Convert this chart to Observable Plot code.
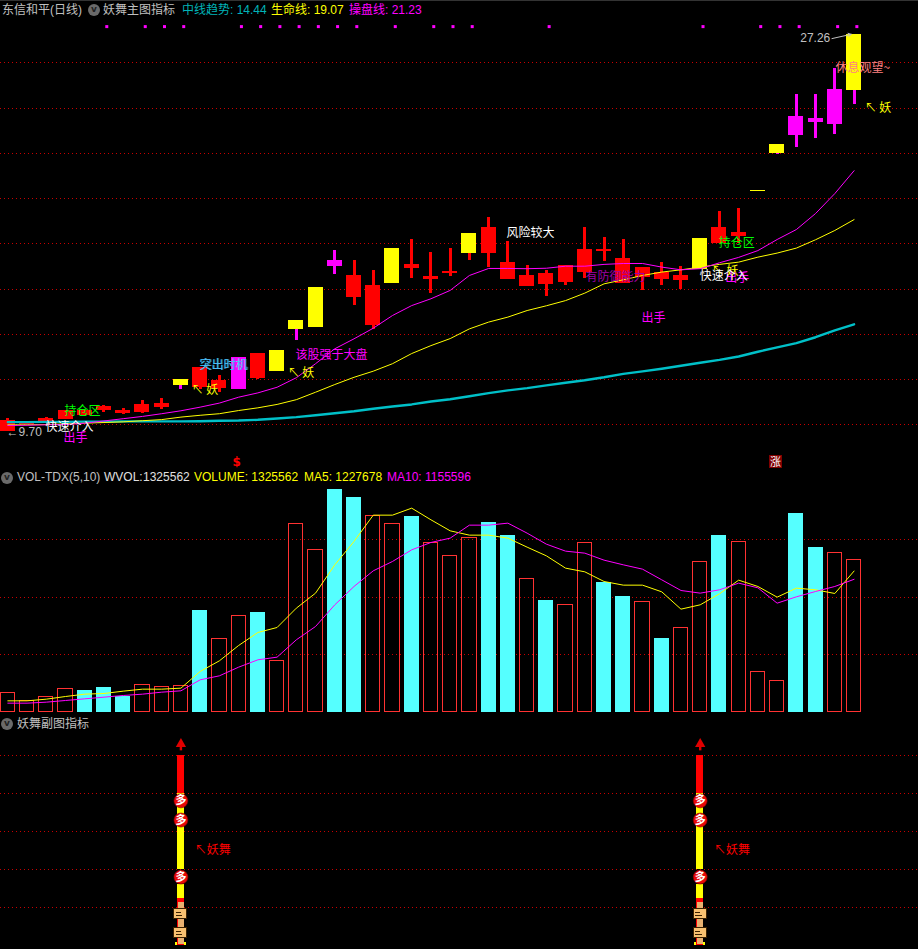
<!DOCTYPE html>
<html><head><meta charset="utf-8">
<script src="https://cdn.jsdelivr.net/npm/d3@7"></script>
<script src="https://cdn.jsdelivr.net/npm/@observablehq/plot@0.6"></script>
<style>
html,body{margin:0;padding:0;background:#000}
#chart{position:relative;width:918px;height:949px;background:#000;overflow:hidden}
#chart svg{display:block;background:#000}
.hd{position:absolute;font:12px/14px "Liberation Sans","Noto Sans CJK SC",sans-serif;white-space:pre}
.ic{position:absolute;width:12px;height:12px;border-radius:50%;background:#6a6a6a;color:#222;font:bold 9px/11px "DejaVu Sans",sans-serif;text-align:center}
</style></head><body>
<div id="chart"></div>
<script>
// --- price panel ---
const candleHigh = [10.29,10.12,10.32,10.63,10.68,10.85,10.72,11.07,11.16,12.00,12.53,12.18,12.97,13.15,13.28,14.61,16.07,17.70,17.26,16.82,17.79,18.19,17.62,17.79,18.46,19.16,18.10,17.04,16.82,17.04,18.72,18.28,18.19,16.95,17.17,17.00,18.23,19.43,19.56,20.37,22.39,24.60,24.60,25.75,27.26];
const bodyTop    = [10.19,10.10,10.26,10.63,10.63,10.81,10.63,10.90,10.94,12.00,12.53,11.96,12.97,13.15,13.28,14.61,16.07,17.26,16.60,16.16,17.79,17.09,16.56,16.78,18.46,18.72,17.17,16.60,16.69,17.04,17.75,17.75,17.36,16.95,16.75,16.60,18.23,18.72,18.50,20.37,22.39,23.63,23.54,24.82,27.26];
const bodyBottom = [9.72,10.01,10.12,10.22,10.41,10.63,10.49,10.54,10.76,11.74,11.65,11.60,11.56,12.05,12.36,14.21,14.30,17.00,15.63,14.39,16.25,16.91,16.42,16.69,17.57,17.57,16.42,16.11,16.20,16.29,16.73,17.66,16.25,16.51,16.42,16.38,16.86,18.01,18.32,20.32,21.99,22.79,23.36,23.27,24.78];
const candleLow  = [9.70,10.01,10.10,10.22,10.37,10.56,10.46,10.49,10.68,11.56,11.56,11.43,11.56,12.00,12.36,13.73,14.30,16.64,15.27,14.21,16.25,16.47,15.80,16.56,17.26,16.95,16.42,16.11,15.67,16.16,16.47,17.22,16.25,15.94,16.16,15.98,16.86,18.01,18.01,20.32,21.95,22.26,22.65,22.83,24.16];
const bodyKind = ["r","r","r","r","r","r","r","r","r","y","r","r","m","r","y","y","y","m","r","r","y","r","r","r","y","r","r","r","r","r","r","r","r","r","r","r","y","r","r","y","y","m","m","m","y"];
const wickKind = ["r","r","r","r","r","r","r","r","r","m","r","r","m","r","y","m","y","m","r","r","y","r","r","r","r","r","r","r","r","r","r","r","r","r","r","r","y","r","r","y","m","m","m","m","m"];
const trendLine = [10.12,10.12,10.13,10.13,10.14,10.14,10.15,10.15,10.15,10.15,10.16,10.18,10.19,10.22,10.28,10.34,10.42,10.51,10.60,10.71,10.81,10.90,11.03,11.13,11.26,11.40,11.52,11.62,11.74,11.86,11.97,12.10,12.25,12.36,12.48,12.61,12.74,12.87,13.02,13.23,13.42,13.61,13.87,14.17,14.44];
const lifeLine = [10.00,10.00,10.01,10.04,10.07,10.10,10.13,10.18,10.23,10.34,10.42,10.49,10.63,10.75,10.90,11.11,11.44,11.78,12.10,12.37,12.70,13.15,13.50,13.81,14.24,14.54,14.76,15.05,15.26,15.49,15.82,16.23,16.41,16.60,16.75,16.85,16.97,17.09,17.19,17.41,17.59,17.81,18.18,18.59,19.07];
const operLine = [9.97,9.98,10.00,10.01,10.07,10.17,10.27,10.37,10.49,10.62,10.78,10.96,11.22,11.41,11.66,12.08,12.70,13.36,13.80,14.27,14.83,15.27,15.57,15.94,16.60,16.91,16.91,16.90,16.92,17.01,17.01,17.09,17.13,17.13,16.97,16.85,16.90,17.16,17.40,17.70,18.19,18.63,19.34,20.22,21.23];
const priceGrid = [10,12,14,16,18,20,22,24,26];
const signalDays = [5,7,8,9,12,13,14,15,16,17,18,20,22,23,24,28,36,39,40,41,43,44];
const signalPrice = 27.6;
const noteText  = ["有防御能力","↖ 妖","出手","快速介入","持仓区","快速介入","持仓区","出手","突出时机","该股强于大盘","风险较大","出手","休息观望~","↖ 妖","↖ 妖","↖ 妖"];
const noteDay   = [30.04,36.6,37.3,1.96,2.95,35.97,36.96,2.9,9.97,14.96,25.93,32.95,43.04,9.55,14.55,44.55];
const notePrice = [16.51,16.78,16.5,9.88,10.59,16.55,18.01,9.39,12.62,13.06,18.46,14.7,25.76,11.52,12.27,23.98];
const noteKind  = ["p","y","m","w","g","w","g","m","c","m","w","m","s","y","y","y"];
const highestLabel = {text:"27.26", day:41.2, price:27.07, fromDay:42.85, toDay:43.85, fromPrice:27.07, toPrice:27.26};
const lowestLabel = {text:"←9.70", day:-0.07, price:9.66};
// --- volume panel ---
const volume = [169000,93200,134000,204000,189400,215600,137000,239000,221500,224400,888800,641000,842100,871300,448800,1646400,1419100,1946600,1876600,1716300,1646400,1710500,1480300,1366700,1524000,1658100,1544400,1165600,976200,938300,1480300,1133500,1011200,964500,644000,737200,1314200,1544400,1489100,352600,273900,1736700,1439500,1392900,1325562];
const volumeKind = ["h","h","h","h","s","s","s","h","h","h","s","h","h","s","h","h","h","s","s","h","h","s","h","h","h","s","s","h","s","h","h","s","s","h","s","h","h","s","h","h","h","s","s","h","h"];
const ma5 = [93200,93200,107800,131100,151500,157400,177800,195200,195200,204000,349700,442900,577000,690600,734300,903300,1034500,1282200,1486100,1716300,1716300,1777500,1675600,1579400,1541500,1541500,1515300,1436600,1360800,1253000,1221000,1136500,1104400,1104400,1046100,894600,932500,1028600,1148100,1092800,999500,1078200,1063600,1031600,1227678];
const ma10 = [72900,72900,81600,96200,110700,125300,139900,151500,169000,180700,276800,311800,387600,451700,475000,626500,743100,932500,1092800,1229700,1311300,1413300,1477400,1515300,1628900,1628900,1646400,1559000,1462800,1401600,1384200,1323000,1282200,1244300,1151000,1057800,1034500,1063600,1121900,1081100,947000,1002400,1049000,1092800,1155596];
const volumeGrid = [500000,1000000,1500000];
// --- lower indicator panel ---
const danceDays = [9,36];
const danceGrid = [1,2,3,4,5];
const redSegments = [[4,5],[0.98,1.24],[0,0.98]];
const yellowSegments = [[2,4],[1.24,1.61]];
const coinLevels = [3.805,3.30,1.80];
const boxLevels = [0.83,0.33];
const danceLabel = "↖妖舞";

const colors = {r:"#ff0000", y:"#ffff00", m:"#ff00ff", w:"#ffffff", g:"#00ff00", c:"#40dcf0", p:"#a000a8", s:"#ff8080"};
const days = volume.map((_, i) => i);
const W = 918, halfBody = 0.39, halfCol = 0.18;
const xScale = {type:"linear", domain:[-0.381,47.35], range:[0,W]};
const crisp = {shapeRendering:"crispEdges"};
const gridStyle = {stroke:"#c80000", strokeWidth:1, strokeDasharray:"1,3", ...crisp};
const borderColor = "#b00000";
const CJK = '"Noto Sans CJK SC"';
const LATIN = '"Liberation Sans"';

// price panel
const pricePlot = Plot.plot({
  width:W, height:470, margin:0, style:{background:"#000"},
  x:{...xScale, axis:null},
  y:{type:"linear", domain:[7.98,28.754], range:[470,0], axis:null},
  marks:[
    Plot.ruleY(priceGrid, gridStyle),
    Plot.ruleX(days, {x:d=>d, y1:i=>candleHigh[i], y2:i=>candleLow[i], stroke:i=>colors[wickKind[i]], strokeWidth:3, ...crisp}),
    Plot.rect(days, {x1:i=>i-halfBody, x2:i=>i+halfBody, y1:i=>bodyBottom[i], y2:i=>bodyTop[i], fill:i=>colors[bodyKind[i]], inset:0, ...crisp}),
    Plot.line(days, {x:d=>d, y:i=>trendLine[i], stroke:"#00c0c8", strokeWidth:2.4, curve:"linear"}),
    Plot.line(days, {x:d=>d, y:i=>lifeLine[i], stroke:"#ffff00", strokeWidth:1, curve:"linear"}),
    Plot.line(days, {x:d=>d, y:i=>operLine[i], stroke:"#ff00ff", strokeWidth:1, curve:"linear"}),
    Plot.dot(signalDays, {x:d=>d, y:()=>signalPrice, dx:2.8, symbol:"square", r:1.7, fill:"#ff00ff", stroke:"none"}),
    Plot.text(noteText, {x:(d,i)=>noteDay[i], y:(d,i)=>notePrice[i], text:d=>d, fill:(d,i)=>colors[noteKind[i]], textAnchor:"start", fontSize:12, fontFamily:CJK}),
    Plot.text(["突出时机"], {x:()=>9.97, y:()=>12.62, text:d=>d, dx:1, fill:"#5aa0ff", fillOpacity:0.6, textAnchor:"start", fontSize:12, fontFamily:CJK}),
    Plot.text([highestLabel], {x:"day", y:"price", text:"text", fill:"#c0c0c0", textAnchor:"start", fontSize:12, fontFamily:LATIN}),
    Plot.arrow([highestLabel], {x1:"fromDay", x2:"toDay", y1:"fromPrice", y2:"toPrice", stroke:"#c0c0c0", strokeWidth:1, headLength:5, bend:false}),
    Plot.text([lowestLabel], {x:"day", y:"price", text:"text", fill:"#c0c0c0", textAnchor:"start", fontSize:12, fontFamily:LATIN}),
    Plot.text(["$"], {x:()=>11.9, y:()=>8.33, text:d=>d, fill:"#ff0000", fontSize:12, fontWeight:"bold", fontFamily:'"DejaVu Sans"'}),
    Plot.rect([39.92], {x1:d=>d-0.34, x2:d=>d+0.34, y1:()=>8.07, y2:()=>8.64, fill:"#800000", ...crisp}),
    Plot.text(["涨"], {x:()=>39.92, y:()=>8.35, text:d=>d, fill:"#ffffff", fontSize:11, fontFamily:CJK}),
    Plot.ruleY([7.98], {stroke:borderColor, strokeWidth:2, ...crisp})
  ]
});

// volume panel
const volumePlot = Plot.plot({
  width:W, height:245, margin:0, style:{background:"#000"},
  x:{...xScale, axis:null},
  y:{type:"linear", domain:[-34964,2106600], range:[245,0], axis:null},
  marks:[
    Plot.ruleY(volumeGrid, gridStyle),
    Plot.rect(days.filter(i=>volumeKind[i]==="s"), {x1:i=>i-halfBody, x2:i=>i+halfBody, y1:()=>-5000, y2:i=>volume[i]-4000, fill:"#55ffff", ...crisp}),
    Plot.rect(days.filter(i=>volumeKind[i]==="h"), {x1:i=>i-0.37, x2:i=>i+0.37, y1:()=>-5000, y2:i=>volume[i]-4000, fill:"none", stroke:"#ff3232", strokeWidth:1, ...crisp}),
    Plot.line(days, {x:d=>d, y:i=>ma5[i], stroke:"#ffff00", strokeWidth:1, curve:"linear"}),
    Plot.line(days, {x:d=>d, y:i=>ma10[i], stroke:"#ff00ff", strokeWidth:1, curve:"linear"}),
    Plot.ruleY([-34964], {stroke:borderColor, strokeWidth:2, ...crisp})
  ]
});

// lower indicator panel
const spread = (segments) => danceDays.flatMap(day => segments.map(([a,b]) => ({day, a, b})));
const levelRows = levels => danceDays.flatMap(day => levels.map(level => ({day, level})));
const dancePlot = Plot.plot({
  width:W, height:234, margin:0, style:{background:"#000"},
  x:{...xScale, axis:null},
  y:{type:"linear", domain:[-0.105,6.05], range:[234,0], axis:null},
  marks:[
    Plot.ruleY(danceGrid, gridStyle),
    Plot.rect(danceDays, {x1:d=>d-0.29, x2:d=>d+0.29, y1:()=>0, y2:()=>0.09, fill:"#ffff00", ...crisp}),
    Plot.rect(spread(redSegments), {x1:d=>d.day-halfCol, x2:d=>d.day+halfCol, y1:"a", y2:"b", fill:"#ff0000", ...crisp}),
    Plot.rect(spread(yellowSegments), {x1:d=>d.day-halfCol, x2:d=>d.day+halfCol, y1:"a", y2:"b", fill:"#ffff00", ...crisp}),
    Plot.ruleX(danceDays, {x:d=>d, y1:()=>5.12, y2:()=>5.3, stroke:"#e00000", strokeWidth:2.4}),
    Plot.dot(danceDays, {x:d=>d, y:()=>5.3, symbol:"triangle", r:3.8, fill:"#e00000", stroke:"none"}),
    Plot.ruleX(levelRows(boxLevels), {x:"day", y1:d=>d.level-0.31, y2:d=>d.level+0.31, stroke:"#e8b070", strokeWidth:5.5, ...crisp}),
    Plot.rect(levelRows(boxLevels), {x1:d=>d.day-0.34, x2:d=>d.day+0.34, y1:d=>d.level-0.12, y2:d=>d.level+0.12, fill:"#f8c070", stroke:"#3a2000", strokeWidth:1, ...crisp}),
    Plot.ruleY(levelRows(boxLevels), {y:d=>d.level+0.04, x1:d=>d.day-0.24, x2:d=>d.day+0.04, stroke:"#3a2000", strokeWidth:1, ...crisp}),
    Plot.ruleY(levelRows(boxLevels), {y:d=>d.level-0.03, x1:d=>d.day-0.24, x2:d=>d.day+0.1, stroke:"#3a2000", strokeWidth:1, ...crisp}),
    Plot.dot(levelRows(coinLevels), {x:"day", y:"level", r:7, fill:"#e80808", stroke:"#7a0000", strokeWidth:0.6}),
    Plot.text(levelRows(coinLevels), {x:"day", y:"level", text:()=>"多", fill:"#ffffff", fontSize:11, fontWeight:"bold", fontFamily:CJK}),
    Plot.text(danceDays, {x:d=>d+0.72, y:()=>2.51, text:()=>danceLabel, fill:"#ff0000", textAnchor:"start", fontSize:12, fontFamily:CJK}),
    Plot.ruleY([-0.105], {stroke:borderColor, strokeWidth:2, ...crisp})
  ]
});

const root = document.getElementById("chart");
root.append(pricePlot, volumePlot, dancePlot);

// panel headers
const headerRows = [
  ["东信和平(日线)",2,3,"#c0c0c0"],["妖舞主图指标",103,3,"#c0c0c0"],
  ["中线趋势: 14.44",182,3,"#00b4b8"],["生命线: 19.07",271,3,"#ffff00"],["操盘线: 21.23",349,3,"#ff00ff"],
  ["VOL-TDX(5,10)",17,470,"#c0c0c0"],["WVOL: 1325562",104,470,"#e0e0e0"],["VOLUME: 1325562",194,470,"#ffff00"],
  ["MA5: 1227678",304,470,"#ffff00"],["MA10: 1155596",387,470,"#ff00ff"],
  ["妖舞副图指标",17,717,"#c0c0c0"]
];
for (const [text,left,top,color] of headerRows) {
  const el = document.createElement("div");
  el.className = "hd";
  el.style.cssText = `left:${left}px;top:${top}px;color:${color}`;
  if (text.startsWith("WVOL")) el.style.wordSpacing = "-3px";
  el.textContent = text;
  root.append(el);
}
for (const [left,top] of [[88,4],[1,472],[1,718]]) {
  const el = document.createElement("div");
  el.className = "ic";
  el.style.cssText = `left:${left}px;top:${top}px`;
  el.textContent = "v";
  root.append(el);
}
const topEdge = document.createElement("div");
topEdge.style.cssText = "position:absolute;left:0;top:0;width:918px;height:1px;background:#333";
root.append(topEdge);
</script>
</body></html>
